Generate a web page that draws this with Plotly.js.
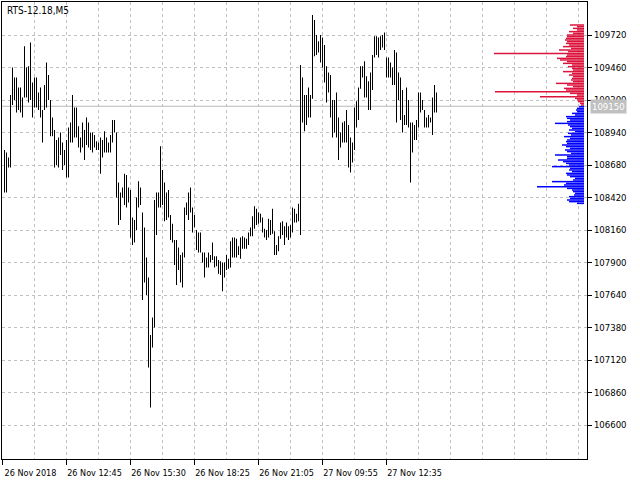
<!DOCTYPE html>
<html><head><meta charset="utf-8">
<script src="https://cdn.plot.ly/plotly-3.0.1.min.js"></script>
<style>html,body{margin:0;padding:0;background:#fff}</style>
</head><body><div id="chart" style="width:640px;height:480px"></div>
<script>
const symbolTitle = 'RTS-12.18,M5';
const barHigh = [108800,108780,108740,109240,109460,109380,109380,109300,109300,109220,
109630,109460,109470,109660,109340,109380,109380,109260,109300,109120,
109320,109500,109400,109200,109060,108960,108880,108900,108940,108860,
108800,108880,108980,109020,109240,109140,109140,108990,108900,109020,
108960,109060,109020,108940,108940,108920,108870,108860,108900,108880,
108950,108900,108860,108920,109040,109040,108940,108540,108460,108500,
108610,108600,108500,108480,108260,108240,108420,108550,108500,108300,
108180,107940,107780,107320,107460,108400,108460,108460,108830,108640,
108540,108460,108480,108280,108210,108080,108080,108020,107960,107980,
108340,108380,108460,108500,108340,108280,108160,108140,108140,107980,
107980,107940,107980,107960,108060,107950,107950,107920,107910,107900,
107900,107960,107930,108070,108100,108100,108090,108030,108100,108110,
108100,108090,108140,108180,108270,108350,108330,108300,108290,108260,
108170,108160,108250,108240,108330,108150,108040,108110,108220,108230,
108190,108220,108190,108200,108340,108330,108290,108370,109480,109380,
109240,109240,109300,109240,109880,109840,109720,109670,109720,109700,
109640,109470,109420,109400,109200,109200,109260,109060,108940,109020,
109030,109120,109000,108900,108860,109140,109190,109300,109470,109470,
109510,109390,109350,109420,109560,109710,109710,109700,109710,109720,
109740,109540,109540,109500,109460,109600,109580,109420,109380,109280,
109080,109300,109200,109020,109020,109000,109040,109260,109260,109200,
109120,109060,109080,109060,109220,109320,109260];
const barLow = [108460,108460,108660,108660,109160,109200,109100,109120,109100,109060,
109220,109220,109180,109200,109060,109140,109140,109120,109060,108860,
109120,109140,109200,108910,108910,108660,108680,108660,108760,108640,
108680,108580,108580,108860,108860,108900,108900,108820,108780,108820,
108720,108840,108820,108800,108780,108820,108800,108800,108610,108740,
108780,108780,108780,108780,108860,108940,108420,108200,108240,108420,
108360,108340,108380,108100,108040,108060,108160,108340,108360,107600,
107740,107640,107060,106740,107220,107380,108120,108340,108340,108360,
108230,108240,108260,108080,108060,107880,107720,107840,107740,107700,
107940,108280,108240,108300,108140,108180,108000,107980,107980,107900,
107780,107860,107860,107900,107920,107860,107870,107810,107800,107670,
107780,107840,107850,107860,107940,107940,107940,107960,107930,108010,
108010,108010,108040,108110,108110,108170,108200,108210,108220,108140,
108100,108080,108100,108120,108130,107960,107960,107990,108090,108120,
108040,108100,108080,108100,108140,108220,108220,108230,108120,109020,
108950,109000,109060,109060,109210,109550,109560,109580,109500,109460,
109340,109180,109260,109060,108900,108940,108900,108720,108820,108860,
108860,108860,108660,108620,108700,108800,108980,109040,109290,109380,
109220,109220,109120,109120,109280,109540,109560,109540,109600,109620,
109600,109380,109380,109380,109320,109320,109020,109200,109040,108940,
109000,109000,108980,108540,108780,108880,108880,108980,109100,109120,
108980,108980,108980,109020,108920,109100,109100];
const timeLabels = ['26 Nov 2018','26 Nov 12:45','26 Nov 15:30','26 Nov 18:25','26 Nov 21:05','27 Nov 09:55','27 Nov 12:35'];
const timeLabelBar = [0,32,64,96,128,160,192];
const priceTicks = [106600,106860,107120,107380,107640,107900,108160,108420,108680,108940,109200,109460,109720];
const lastPrice = 109150;
const profileLevels = [109800,109787,109773,109760,109747,109733,109720,109707,109693,109680,
109667,109653,109640,109627,109613,109600,109587,109573,109560,109547,
109533,109520,109507,109493,109480,109467,109453,109440,109427,109413,
109400,109387,109373,109360,109347,109333,109320,109307,109293,109280,
109267,109253,109240,109227,109213,109200,109187,109173,109160,109147,
109133,109120,109107,109093,109080,109067,109053,109040,109027,109013,
109000,108987,108973,108960,108947,108933,108920,108907,108893,108880,
108867,108853,108840,108827,108813,108800,108787,108773,108760,108747,
108733,108720,108707,108693,108680,108667,108653,108640,108627,108613,
108600,108587,108573,108560,108547,108533,108520,108507,108493,108480,
108467,108453,108440,108427,108413,108400,108387,108373];
const profileVolume = [14,7,11,7,15,11,17,17,18,19,
17,18,15,21,13,25,16,90,17,18,
27,24,17,21,12,16,12,11,21,12,
15,11,12,13,11,28,17,11,20,18,
89,14,7,44,9,7,6,4,3,5,
7,8,7,12,9,18,17,14,17,29,
16,14,12,15,9,16,13,20,14,17,
18,17,22,18,14,19,17,13,29,17,
17,26,21,18,15,32,14,15,12,18,
17,14,9,11,32,18,20,47,17,12,
11,9,10,15,14,17,15,7];

const FONT = 'DejaVu Sans Condensed, DejaVu Sans, sans-serif';
const GRID = '#C0C0C0';
const DASH = '3px,3px';

const lx = [], ly = [];
for (let i = 0; i < barHigh.length; i++) {
  lx.push(i + 1, i + 1, null);
  ly.push(barLow[i], barHigh[i], null);
}

const traces = [
  {
    type: 'bar', orientation: 'h', xaxis: 'x2', yaxis: 'y',
    x: profileVolume, y: profileLevels, width: 12,
    marker: {color: profileLevels.map(p => p > lastPrice ? '#DC143C' : '#0000FF'), line: {width: 0}},
    hoverinfo: 'skip'
  },
  {
    type: 'scatter', mode: 'lines', x: lx, y: ly,
    line: {color: '#000000', width: 1}, hoverinfo: 'skip'
  }
];

const layout = {
  width: 640, height: 480,
  margin: {l: 2, r: 53, t: 2, b: 21, pad: 0},
  paper_bgcolor: '#ffffff', plot_bgcolor: '#ffffff',
  showlegend: false,
  font: {family: FONT, size: 9, color: '#000'},
  xaxis: {
    range: [-0.25, 292.25], tickmode: 'array', tickvals: timeLabelBar, ticktext: timeLabels,
    ticks: 'outside', ticklen: 5, tickcolor: '#000', tickwidth: 1,
    tickfont: {family: FONT, size: 9, color: '#000'}, ticklabelshift: 28, ticklabelstandoff: 0,
    showgrid: true, gridcolor: GRID, griddash: DASH, gridwidth: 1,
    minor: {tickmode: 'linear', tick0: 0, dtick: 16, showgrid: true, gridcolor: GRID, griddash: DASH, gridwidth: 1, ticks: ''},
    showline: true, mirror: true, linecolor: '#000', linewidth: 1, zeroline: false
  },
  xaxis2: {overlaying: 'x', range: [582, -3], visible: false, showgrid: false, zeroline: false},
  yaxis: {
    side: 'right', range: [106328, 109984], tickmode: 'array', tickvals: priceTicks,
    ticktext: priceTicks.map(String),
    ticks: 'outside', ticklen: 4, tickcolor: '#000', tickwidth: 1,
    tickfont: {family: FONT, size: 9.5, color: '#000'},
    showgrid: true, gridcolor: GRID, griddash: DASH, gridwidth: 1,
    showline: true, mirror: true, linecolor: '#000', linewidth: 1, zeroline: false
  },
  shapes: [{
    type: 'line', xref: 'paper', x0: 0, x1: 1, yref: 'y', y0: lastPrice, y1: lastPrice,
    line: {color: '#B8B8B8', width: 1}, layer: 'between'
  }],
  annotations: [
    {xref: 'paper', yref: 'paper', x: 0, y: 1, xanchor: 'left', yanchor: 'top', xshift: 3, yshift: -1,
     text: symbolTitle, showarrow: false, font: {family: FONT, size: 10, color: '#000'}},
    {xref: 'paper', yref: 'y', x: 1, y: lastPrice, xanchor: 'left', yanchor: 'middle', xshift: 3,
     text: String(lastPrice), showarrow: false, bgcolor: '#C0C0C0', borderpad: 1,
     font: {family: FONT, size: 9.5, color: '#ffffff'}}
  ]
};

Plotly.newPlot('chart', traces, layout, {staticPlot: true, displayModeBar: false});
</script>
</body></html>
